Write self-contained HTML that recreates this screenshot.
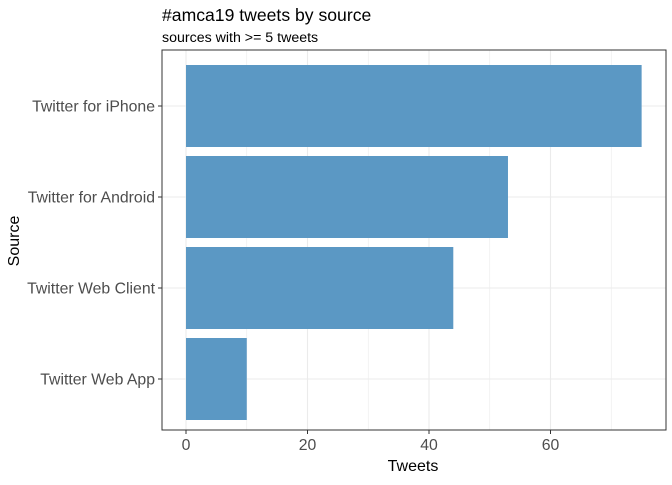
<!DOCTYPE html>
<html><head><meta charset="utf-8"><style>
body{margin:0;background:#fff;font-family:"Liberation Sans",Arial,sans-serif}
</style></head><body>
<svg id="chart" width="672" height="480" xmlns="http://www.w3.org/2000/svg">
<text x="162" y="21" font-size="17.6" fill="#000">#amca19 tweets by source</text>
<text x="162" y="42" font-size="14.2" fill="#000">sources with &gt;= 5 tweets</text>
<g id="plot"></g>
<text x="413" y="471" font-size="16" text-anchor="middle" fill="#000">Tweets</text>
<text transform="translate(19,241) rotate(-90)" font-size="16" text-anchor="middle" fill="#000">Source</text>
</svg>
<script>
const categories=["Twitter for iPhone","Twitter for Android","Twitter Web Client","Twitter Web App"];
const values=[75,53,44,10];
const xTicks=[0,20,40,60];
const xMinor=[10,30,50,70];
const L=162,R=666,T=50,B=430;
const x=v=>186+v*6.075;
const yc=i=>106+i*91;
const bh=82;
const ns="http://www.w3.org/2000/svg";
const g=document.getElementById('plot');
function mk(t,a){const e=document.createElementNS(ns,t);for(const k in a)e.setAttribute(k,a[k]);g.appendChild(e);return e;}
xMinor.forEach(v=>{const e=mk('line',{x1:x(v),x2:x(v),y1:T,y2:B,stroke:'#ebebeb','stroke-width':0.6});

});
xTicks.forEach(v=>{const e=mk('line',{x1:x(v),x2:x(v),y1:T,y2:B,stroke:'#ebebeb','stroke-width':1.1});

});
categories.forEach((c,i)=>{const e=mk('line',{x1:L,x2:R,y1:yc(i),y2:yc(i),stroke:'#ebebeb','stroke-width':1.1});

});
categories.forEach((c,i)=>{
const r=mk('rect',{x:x(0),y:yc(i)-bh/2,width:x(values[i])-x(0),height:bh,fill:'#5b98c4'});


const t=mk('line',{x1:L-4,x2:L,y1:yc(i),y2:yc(i),stroke:'#333','stroke-width':1});


const l=mk('text',{x:L-7,y:yc(i)+5.5,'font-size':15.8,'text-anchor':'end',fill:'#4d4d4d'});
l.textContent=c;


});
xTicks.forEach(v=>{
const t=mk('line',{x1:x(v),x2:x(v),y1:B,y2:B+4,stroke:'#333','stroke-width':1});


const l=mk('text',{x:x(v),y:B+20,'font-size':15.8,'text-anchor':'middle',fill:'#4d4d4d'});
l.textContent=v;


});
const f=mk('rect',{x:L,y:T,width:R-L,height:B-T,fill:'none',stroke:'#333','stroke-width':1});


</script>
</body></html>
